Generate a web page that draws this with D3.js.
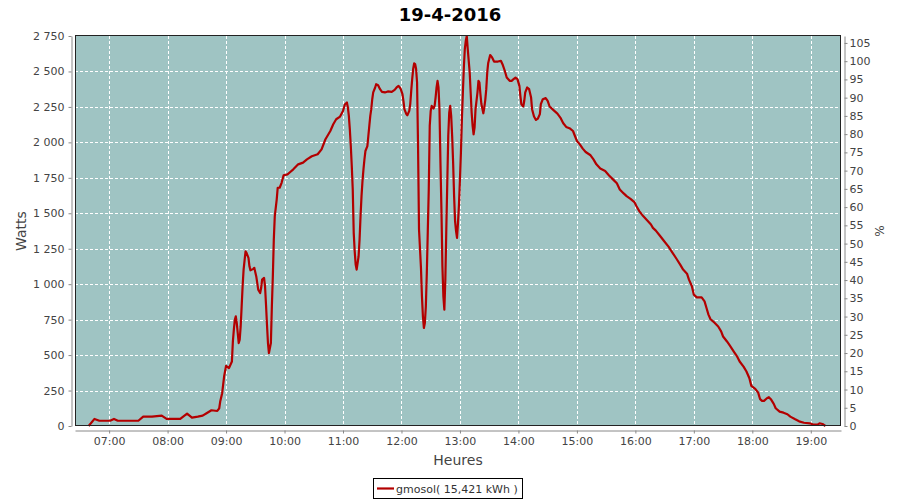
<!DOCTYPE html>
<html><head><meta charset="utf-8">
<script src="https://cdn.jsdelivr.net/npm/d3@7"></script>
<style>body{margin:0;background:#fff}svg{display:block;font-family:"DejaVu Sans",sans-serif}</style>
</head><body><svg id="c" width="900" height="500"></svg>
<script>
const title = "19-4-2016";
const seriesName = "gmosol( 15,421 kWh )";
const xLabel = "Heures", yLabel = "Watts", y2Label = "%";
// minutes after midnight
const minutes = [
399,405,410,421,425,429,450,455,464,474,
479,493,500,505,511,516,520,525,531,533,
534,536,538,540,543,546,547,548,549,550,
551,552,553,554,555,556,557,558,560,561,
563,564,565,568,569,571,572,573,575,576,
577,579,580,581,582,583,584,586,587,588,
589,590,592,593,595,597,599,603,605,609,
614,619,623,628,634,638,642,647,650,653,
657,660,662,664,665,666,667,668,669,670,
671,672,673,674,676,677,678,679,680,681,
682,683,685,686,687,688,689,690,691,693,
694,696,698,700,703,706,710,713,715,717,
719,721,722,723,725,726,728,729,730,731,
732,733,734,735,736,737,738,740,741,742,
743,744,745,746,747,748,749,750,751,753,
754,755,756,757,758,759,760,761,762,763,
764,765,766,767,768,769,770,771,772,773,
774,775,776,777,778,779,780,781,782,783,
784,785,786,787,788,789,790,791,792,793,
794,795,796,798,799,800,801,802,804,805,
806,807,808,809,811,813,815,819,822,824,
826,828,831,833,835,837,839,841,842,843,
845,846,847,849,851,853,854,856,858,860,
862,863,865,868,870,872,876,880,883,886,
889,893,896,898,900,903,906,909,914,917,
920,924,929,933,937,941,944,948,951,955,
959,961,964,968,972,976,978,981,985,989,
994,998,1002,1006,1009,1013,1015,1018,1020,1023,
1028,1031,1033,1035,1037,1041,1045,1048,1050,1054,
1057,1061,1064,1067,1071,1074,1077,1079,1083,1086,
1088,1090,1092,1095,1097,1099,1102,1104,1108,1112,
1116,1119,1124,1128,1133,1139,1143,1147,1149,1152,
1155];
const watts = [
0,50,37,37,50,37,37,66,66,73,
50,50,87,59,66,73,90,111,106,125,
172,231,349,424,408,455,596,679,749,773,
726,655,585,608,702,843,985,1103,1232,1221,
1185,1126,1098,1108,1115,1055,1009,961,938,973,
1032,1044,985,855,714,585,514,585,843,1055,
1315,1480,1598,1680,1680,1715,1767,1774,1786,1810,
1845,1857,1880,1902,1916,1951,2022,2080,2128,2163,
2182,2222,2269,2281,2246,2187,2092,1974,1833,1668,
1362,1232,1138,1103,1197,1315,1480,1621,1727,1810,
1880,1939,1974,2045,2116,2187,2234,2304,2352,2387,
2410,2403,2375,2356,2352,2359,2356,2370,2387,2398,
2380,2340,2293,2234,2199,2191,2222,2269,2363,2446,
2517,2557,2552,2517,2422,1974,1386,1115,914,773,
691,726,843,1079,1374,1668,2116,2222,2257,2239,
2257,2316,2387,2434,2387,2230,1857,1527,1126,914,
820,1032,1386,1715,2045,2210,2257,2187,2045,1857,
1621,1444,1374,1327,1433,1562,1739,1928,2163,2352,
2528,2658,2717,2750,2658,2575,2493,2352,2210,2116,
2057,2104,2234,2352,2434,2422,2340,2270,2205,2246,
2300,2375,2493,2560,2616,2599,2570,2570,2575,2545,
2505,2457,2434,2434,2446,2457,2446,2398,2328,2269,
2253,2293,2352,2387,2375,2316,2234,2182,2158,2168,
2199,2269,2304,2312,2293,2253,2227,2203,2175,2135,
2109,2097,2080,2045,2010,1986,1956,1932,1909,1880,
1845,1815,1798,1767,1739,1711,1668,1640,1621,1602,
1579,1551,1515,1480,1451,1421,1397,1378,1343,1308,
1265,1223,1181,1138,1103,1074,1032,985,926,907,
907,879,832,785,754,730,702,667,631,596,
566,525,495,455,419,384,337,283,262,235,
189,177,177,196,203,189,156,125,101,94,
83,66,47,33,23,19,9,9,19,14,
0];
const wattTicks = d3.range(0, 2751, 250);
const pctTicks = d3.range(0, 106, 5);
const hourTicks = d3.range(7, 20);
const xDomainMin = [385, 1171];
const wattMax = 2750, pctMax = 106.9;

const toDate = m => new Date(2016, 3, 19, 0, m);
const data = minutes.map((m, i) => ({t: toDate(m), w: watts[i]}));

const L = 75, R = 841, T = 36, B = 426;
const svg = d3.select("#c");
const x = d3.scaleTime().domain(xDomainMin.map(toDate)).range([L, R]);
const y = d3.scaleLinear().domain([0, wattMax]).range([B, T]);
const y2 = d3.scaleLinear().domain([0, pctMax]).range([B, T]);
const loc = d3.formatLocale({decimal: ",", thousands: " ", grouping: [3], currency: ["", ""]});
const fmt = loc.format(",d");

svg.append("rect").attr("x", L).attr("y", T).attr("width", R - L).attr("height", B - T).attr("fill", "#9fc4c3");

const grid = svg.append("g").attr("stroke", "#fff").attr("stroke-width", 1).attr("stroke-dasharray", "3,2");
grid.selectAll(".v").data(hourTicks).join("line")
  .attr("x1", d => Math.round(x(toDate(d * 60))) + 0.5).attr("x2", d => Math.round(x(toDate(d * 60))) + 0.5)
  .attr("y1", T).attr("y2", B);
grid.selectAll(".h").data(wattTicks.filter(d => d > 0 && d < wattMax)).join("line")
  .attr("y1", d => Math.round(y(d)) + 0.5).attr("y2", d => Math.round(y(d)) + 0.5)
  .attr("x1", L).attr("x2", R);

svg.append("path").datum(data)
  .attr("fill", "none").attr("stroke", "#b30000").attr("stroke-width", 2.2).attr("stroke-linejoin", "round")
  .attr("d", d3.line().x(d => x(d.t)).y(d => y(d.w)));

svg.append("rect").attr("x", L + 0.5).attr("y", T - 0.5).attr("width", R - L - 1).attr("height", B - T)
  .attr("fill", "none").attr("stroke", "#222").attr("stroke-width", 1);

function styleAxis(g) {
  g.selectAll("path.domain").attr("stroke", "#888");
  g.selectAll(".tick line").attr("stroke", "#888");
  g.selectAll("text").attr("fill", "#444").style("font-size", "11px").style("font-family", "DejaVu Sans");
}
svg.append("g").attr("transform", "translate(71.5,0)")
  .call(d3.axisLeft(y).tickValues(wattTicks).tickFormat(fmt).tickSize(3).tickSizeOuter(0).tickPadding(4))
  .call(styleAxis);
svg.append("g").attr("transform", "translate(0,430.5)")
  .call(d3.axisBottom(x).tickValues(hourTicks.map(h => toDate(h * 60))).tickFormat(d3.timeFormat("%H:%M")).tickSize(3).tickSizeOuter(0).tickPadding(4))
  .call(styleAxis);
svg.append("g").attr("transform", "translate(844.5,0)")
  .call(d3.axisRight(y2).tickValues(pctTicks).tickSize(3).tickSizeOuter(0).tickPadding(2))
  .call(styleAxis);

svg.append("text").attr("x", 450).attr("y", 21).attr("text-anchor", "middle")
  .style("font-size", "18px").style("font-weight", "bold").attr("fill", "#000").text(title);
svg.append("text").attr("transform", "translate(26,231) rotate(-90)").attr("text-anchor", "middle")
  .style("font-size", "14px").attr("fill", "#444").text(yLabel);
svg.append("text").attr("x", 458).attr("y", 465).attr("text-anchor", "middle")
  .style("font-size", "14px").attr("fill", "#444").text(xLabel);
svg.append("text").attr("transform", "translate(884,231) rotate(-90)").attr("text-anchor", "middle")
  .style("font-size", "12px").attr("fill", "#444").text(y2Label);

const lg = svg.append("g");
lg.append("rect").attr("x", 373.5).attr("y", 478.5).attr("width", 149).attr("height", 20)
  .attr("fill", "#fff").attr("stroke", "#000");
lg.append("line").attr("x1", 377).attr("x2", 394).attr("y1", 488.5).attr("y2", 488.5)
  .attr("stroke", "#b30000").attr("stroke-width", 2.2);
lg.append("text").attr("x", 396).attr("y", 492.5).style("font-size", "11px").attr("fill", "#333").text(seriesName);
</script></body></html>
